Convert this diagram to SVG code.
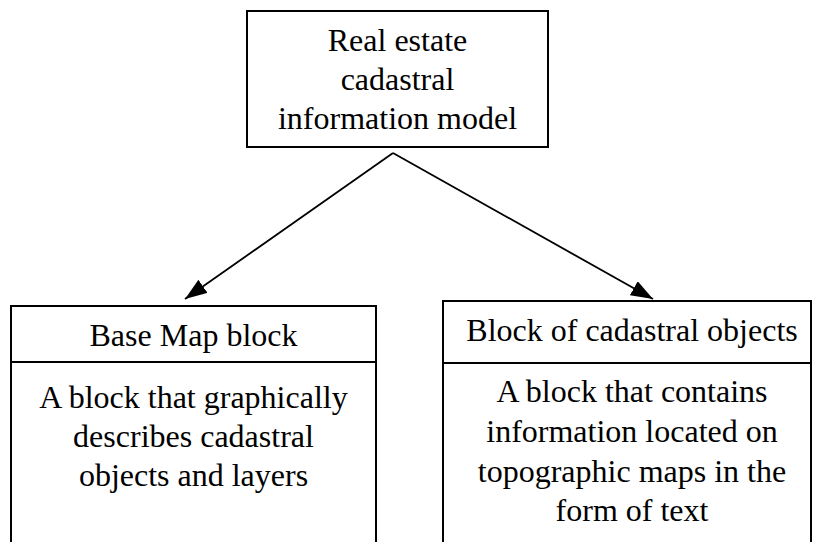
<svg xmlns="http://www.w3.org/2000/svg" width="813" height="542" viewBox="0 0 813 542">
<defs>
<style>
.box{fill:#fff;stroke:#000;stroke-width:2}
.t{font-size:32px;fill:#000;text-anchor:middle}
.c{stroke:#000;stroke-width:1.8;fill:none}
</style>
<marker id="ah" viewBox="0 0 22 16" refX="22" refY="8" markerWidth="22" markerHeight="16" markerUnits="userSpaceOnUse" orient="auto">
<path d="M0,0 L22,8 L0,16 z" fill="#000"/>
</marker>
</defs>
<rect width="813" height="542" fill="#fff"/>
<g id="connectors">
<line class="c" x1="393" y1="153" x2="185" y2="299" marker-end="url(#ah)"/>
<line class="c" x1="393" y1="153" x2="653" y2="299" marker-end="url(#ah)"/>
</g>
<g font-family="'Liberation Serif', 'Times New Roman', 'DejaVu Serif', serif">
<g id="top">
<rect class="box" x="247" y="11" width="301" height="136"/>
<text class="t" x="397.5" y="51">Real estate</text>
<text class="t" x="397.5" y="90">cadastral</text>
<text class="t" x="397.5" y="129">information model</text>
</g>
<g id="left">
<rect class="box" x="11" y="306" width="365" height="250"/>
<line class="box" x1="11" y1="362" x2="376" y2="362"/>
<text class="t" x="193.5" y="346">Base Map block</text>
<text class="t" x="193.5" y="408">A block that graphically</text>
<text class="t" x="193.5" y="447">describes cadastral</text>
<text class="t" x="193.5" y="486">objects and layers</text>
</g>
<g id="right">
<rect class="box" x="443" y="301" width="368" height="255"/>
<line class="box" x1="443" y1="363" x2="811" y2="363"/>
<text class="t" x="632" y="341">Block of cadastral objects</text>
<text class="t" x="632" y="402">A block that contains</text>
<text class="t" x="632" y="442">information located on</text>
<text class="t" x="632" y="482">topographic maps in the</text>
<text class="t" x="632" y="521">form of text</text>
</g>
</g>
</svg>
